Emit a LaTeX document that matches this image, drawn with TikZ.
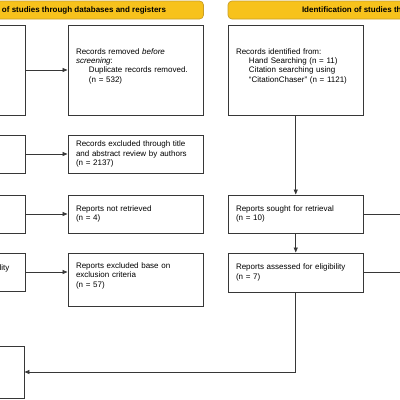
\documentclass[tikz,border=0pt]{standalone}
\usepackage{fontspec}
\setmainfont{Liberation Sans}
\usetikzlibrary{arrows.meta}
\definecolor{bannerfill}{RGB}{247,194,28}
\definecolor{bannerdraw}{RGB}{200,158,40}
\definecolor{boxline}{RGB}{55,55,55}
\begin{document}
\begin{tikzpicture}[x=1pt,y=-1pt,
  box/.style={draw=boxline, line width=0.9pt, inner sep=0pt, fill=white,
    align=left, text width=119.5pt, minimum width=135.5pt,
    font=\fontsize{8}{9.4}\selectfont},
  lbox/.style={box, text width=117.5pt, minimum width=133.5pt},
  banner/.style={draw=bannerdraw, fill=bannerfill, line width=0.7pt,
    rounded corners=4pt, inner sep=0pt, minimum height=18pt,
    font=\bfseries\fontsize{8}{9.4}\selectfont},
  arr/.style={draw=boxline, line width=0.8pt, -{Triangle[length=5pt,width=4pt]}},
  plain/.style={draw=boxline, line width=0.8pt}
]
\useasboundingbox (0,0) rectangle (400,400);
\clip (0,0) rectangle (400,400);

% banners
\node[banner, minimum width=291pt] (bl) at (58,10) {Identification of studies through databases and registers};
\node[banner, minimum width=328pt] (br) at (392,10) {Identification of studies through other methods};

% left column (mostly outside the picture)
\node[lbox, minimum height=90pt] (l1) at (-41.25,70) {};
\node[lbox, minimum height=38pt] (l2) at (-41.25,154) {};
\node[lbox, minimum height=38pt] (l3) at (-41.25,214) {};
\node[lbox, minimum height=38pt] (l4) at (-41.25,272) {Reports assessed for eligibility\\ \mbox{}};
\node[lbox, minimum height=52pt, minimum width=132pt] (l5) at (-42,372) {};

% middle column
\node[box, minimum height=90pt] (r1) at (135.75,70) {Records removed \textit{before}\\
  \textit{screening}:\\
  \hspace*{13pt}Duplicate records removed.\\
  \hspace*{13pt}(n = 532)\\ \mbox{}};
\node[box, minimum height=38pt] (r2) at (135.75,154) {Records excluded through title\\
  and abstract review by authors\\ (n = 2137)};
\node[box, minimum height=38pt] (r3) at (135.75,214) {Reports not retrieved\\ (n = 4)};
\node[box, minimum height=53pt] (r4) at (135.75,279.5) {Reports excluded base on\\
  exclusion criteria\\ (n = 57)\\ \mbox{}};

% right column
\node[box, minimum height=90pt] (o1) at (295.75,70) {Records identified from:\\
  \hspace*{13pt}Hand Searching (n = 11)\\
  \hspace*{13pt}Citation searching using\\
  \hspace*{13pt}“CitationChaser” (n = 1121)\\ \mbox{}};
\node[box, minimum height=38pt] (o3) at (295.75,214) {Reports sought for retrieval\\ (n = 10)};
\node[box, minimum height=39pt] (o4) at (295.75,272.5) {Reports assessed for eligibility\\ (n = 7)};

\coordinate (ro3) at (410,214);
\coordinate (ro4) at (410,272.5);

% connectors
\draw[arr] (l1.east) -- (r1.west);
\draw[arr] (l2.east) -- (r2.west);
\draw[arr] (l3.east) -- (r3.west);
\draw[arr] (l4.east) -- (r4.west |- l4.east);
\draw[arr] (o1.south) -- (o3.north);
\draw[arr] (o3.south) -- (o4.north);
\draw[arr] (o4.south) |- (l5.east);
\draw[plain] (o3.east) -- (ro3);
\draw[plain] (o4.east) -- (ro4);
\end{tikzpicture}
\end{document}
